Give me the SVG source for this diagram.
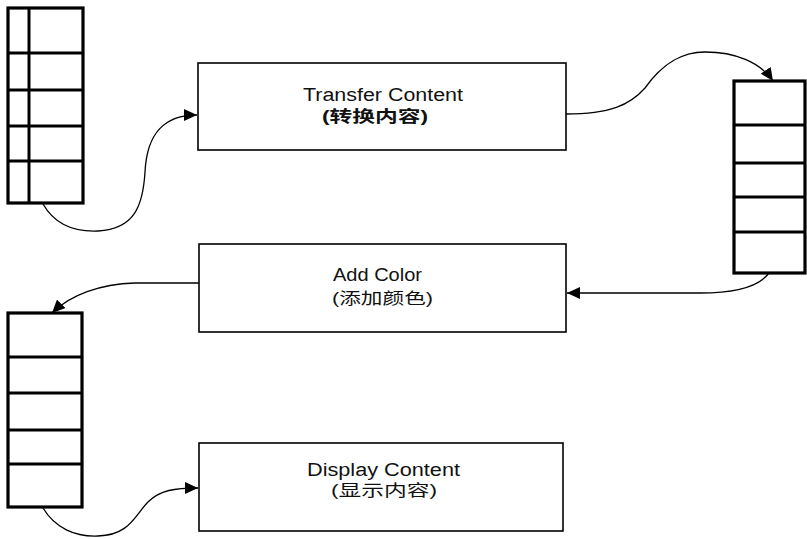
<svg xmlns="http://www.w3.org/2000/svg" width="807" height="539" viewBox="0 0 807 539">
  <defs>
    <marker id="arrow" markerUnits="userSpaceOnUse" markerWidth="14" markerHeight="12" refX="13" refY="6" orient="auto">
      <path d="M0,0 L13,6 L0,12 Z" fill="#000"/>
    </marker>
    <style>
      .box { fill: #fff; stroke: #000; stroke-width: 1.6; }
      .arr { fill: #fff; stroke: #000; stroke-width: 3.2; }
      .cell { stroke: #000; stroke-width: 3; fill: none; }
      .lat { font-family: "Liberation Sans", Arial, sans-serif; font-size: 18px; fill: #111; }
      .cjk { font-family: "Liberation Sans", "Noto Sans CJK SC", sans-serif; font-size: 16px; fill: #111; }
      .heavy { font-weight: bold; }
      .edge { fill: none; stroke: #000; stroke-width: 1.3; }
    </style>
  </defs>

  <!-- input buffer, top left -->
  <g id="buffer-in">
    <rect class="arr" x="8" y="8" width="75" height="195"/>
    <line class="cell" x1="29" y1="8" x2="29" y2="203"/>
    <line class="cell" x1="8" y1="53" x2="83" y2="53"/>
    <line class="cell" x1="8" y1="90" x2="83" y2="90"/>
    <line class="cell" x1="8" y1="126" x2="83" y2="126"/>
    <line class="cell" x1="8" y1="161" x2="83" y2="161"/>
  </g>

  <!-- intermediate buffer, right -->
  <g id="buffer-mid">
    <rect class="arr" x="734" y="81" width="71" height="192"/>
    <line class="cell" x1="734" y1="125" x2="805" y2="125"/>
    <line class="cell" x1="734" y1="163" x2="805" y2="163"/>
    <line class="cell" x1="734" y1="197" x2="805" y2="197"/>
    <line class="cell" x1="734" y1="232" x2="805" y2="232"/>
  </g>

  <!-- output buffer, bottom left -->
  <g id="buffer-out">
    <rect class="arr" x="8" y="313" width="74" height="194"/>
    <line class="cell" x1="8" y1="357" x2="82" y2="357"/>
    <line class="cell" x1="8" y1="393" x2="82" y2="393"/>
    <line class="cell" x1="8" y1="430" x2="82" y2="430"/>
    <line class="cell" x1="8" y1="464" x2="82" y2="464"/>
  </g>

  <g id="transfer">
    <rect class="box" x="198" y="63" width="368" height="87"/>
    <text class="lat" x="303" y="101" textLength="160" lengthAdjust="spacingAndGlyphs">Transfer Content</text>
    <text class="cjk heavy" x="322" y="122" textLength="106" lengthAdjust="spacingAndGlyphs">(转换内容)</text>
  </g>

  <g id="color">
    <rect class="box" x="199" y="244" width="367" height="88"/>
    <text class="lat" x="333" y="281" textLength="89" lengthAdjust="spacingAndGlyphs">Add Color</text>
    <text class="cjk" x="332" y="304" textLength="101" lengthAdjust="spacingAndGlyphs">(添加颜色)</text>
  </g>

  <g id="display">
    <rect class="box" x="199" y="443" width="364" height="88"/>
    <text class="lat" x="307" y="476" textLength="153" lengthAdjust="spacingAndGlyphs">Display Content</text>
    <text class="cjk" x="331" y="496" textLength="106" lengthAdjust="spacingAndGlyphs">(显示内容)</text>
  </g>

  <g id="connectors">
    <path class="edge" marker-end="url(#arrow)" d="M43,204 C55,225 75,232 98,231 C135,229 143,205 145,172 C147,132 165,115 197,115"/>
    <path class="edge" marker-end="url(#arrow)" d="M566,114 C610,114 630,105 645,88 C665,60 685,52 705,52 C735,52 760,62 773,81"/>
    <path class="edge" marker-end="url(#arrow)" d="M769,273 C758,288 730,293 700,293 L567,293"/>
    <path class="edge" marker-end="url(#arrow)" d="M199,283 L135,283 C100,284 70,295 52,313"/>
    <path class="edge" marker-end="url(#arrow)" d="M43,508 C55,528 75,537 98,536 C130,535 135,515 148,502 C160,490 175,488 198,488"/>
  </g>
</svg>
